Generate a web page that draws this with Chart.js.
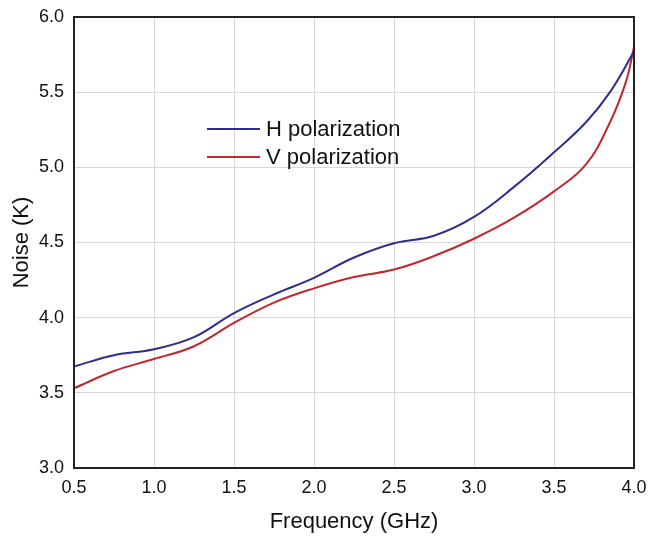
<!DOCTYPE html>
<html>
<head>
<meta charset="utf-8">
<script src="https://cdn.jsdelivr.net/npm/chart.js@4"></script>
<style>
html,body{margin:0;padding:0;background:#fff;}
#wrap{width:649px;height:536px;position:relative;}
</style>
</head>
<body>
<div id="wrap"><canvas id="c" width="649" height="536"></canvas></div>
<script>
const freqH = [0.5, 0.75, 1.0, 1.25, 1.5, 1.75, 2.0, 2.25, 2.5, 2.75, 3.0, 3.25, 3.5, 3.7, 3.85, 4.0];
const noiseH = [3.675, 3.75, 3.79, 3.87, 4.03, 4.155, 4.265, 4.40, 4.495, 4.545, 4.67, 4.87, 5.10, 5.30, 5.50, 5.77];
const freqV = [0.5, 0.75, 1.0, 1.25, 1.5, 1.75, 2.0, 2.25, 2.5, 2.75, 3.0, 3.25, 3.5, 3.7, 3.85, 3.95, 4.0];
const noiseV = [3.53, 3.645, 3.725, 3.81, 3.965, 4.10, 4.195, 4.27, 4.32, 4.41, 4.525, 4.665, 4.84, 5.02, 5.30, 5.57, 5.80];
const xTicks = [0.5, 1.0, 1.5, 2.0, 2.5, 3.0, 3.5, 4.0];
const yTicks = [3.0, 3.5, 4.0, 4.5, 5.0, 5.5, 6.0];
const seriesLabels = ['H polarization', 'V polarization'];
const seriesColors = ['#2e2e8c', '#c0282f'];

const FONT = "'Liberation Sans', Arial, sans-serif";

const pts = (xs, ys) => xs.map((x, i) => ({x: x, y: ys[i]}));

const legendInside = {
  id: 'legendInside',
  afterDatasetsDraw(chart) {
    const ctx = chart.ctx;
    ctx.save();
    ctx.font = "22px " + FONT;
    ctx.textBaseline = 'middle';
    ctx.textAlign = 'left';
    chart.data.datasets.forEach((ds, i) => {
      const y = 129 + i * 28;
      ctx.strokeStyle = ds.borderColor;
      ctx.lineWidth = 2;
      ctx.beginPath();
      ctx.moveTo(207, y);
      ctx.lineTo(260, y);
      ctx.stroke();
      ctx.fillStyle = '#111';
      ctx.fillText(ds.label, 266, y + 1);
    });
    ctx.restore();
  }
};

const border = {
  id: 'border',
  afterDatasetsDraw(chart) {
    const a = chart.chartArea, ctx = chart.ctx;
    ctx.save();
    ctx.strokeStyle = '#222';
    ctx.lineWidth = 2;
    ctx.strokeRect(a.left, a.top, a.right - a.left, a.bottom - a.top);
    ctx.restore();
  }
};

new Chart(document.getElementById('c'), {
  type: 'line',
  data: {
    datasets: [
      {label: seriesLabels[0], data: pts(freqH, noiseH), borderColor: seriesColors[0], borderWidth: 2, pointRadius: 0, tension: 0.4, fill: false},
      {label: seriesLabels[1], data: pts(freqV, noiseV), borderColor: seriesColors[1], borderWidth: 2, pointRadius: 0, tension: 0.4, fill: false}
    ]
  },
  options: {
    responsive: false,
    animation: false,
    devicePixelRatio: 1,
    layout: {padding: {left: 0, right: 0, top: 17, bottom: 0}},
    plugins: {legend: {display: false}, tooltip: {enabled: false}},
    scales: {
      x: {
        type: 'linear', min: 0.5, max: 4.0,
        afterBuildTicks(s) { s.ticks = xTicks.map(v => ({value: v})); },
        afterFit(s) { s.height = 68; s.paddingLeft = 0; s.paddingRight = 15; },
        grid: {color: '#d8d8d8', lineWidth: 1, drawTicks: false},
        border: {display: false},
        ticks: {color: '#111', font: {size: 18, family: FONT}, padding: 9, callback: v => v.toFixed(1)},
        title: {display: true, text: 'Frequency (GHz)', color: '#111', font: {size: 22, family: FONT}, padding: {top: 0, bottom: 1}}
      },
      y: {
        type: 'linear', min: 3.0, max: 6.0,
        afterBuildTicks(s) { s.ticks = yTicks.map(v => ({value: v})); },
        afterFit(s) { s.width = 74; s.paddingTop = 0; s.paddingBottom = 0; },
        grid: {color: '#d8d8d8', lineWidth: 1, drawTicks: false},
        border: {display: false},
        ticks: {color: '#111', font: {size: 18, family: FONT}, padding: 10, callback: v => v.toFixed(1)},
        title: {display: true, text: 'Noise (K)', color: '#111', font: {size: 22, family: FONT}, padding: {top: 9, bottom: 9}}
      }
    }
  },
  plugins: [legendInside, border]
});
</script>
</body>
</html>
